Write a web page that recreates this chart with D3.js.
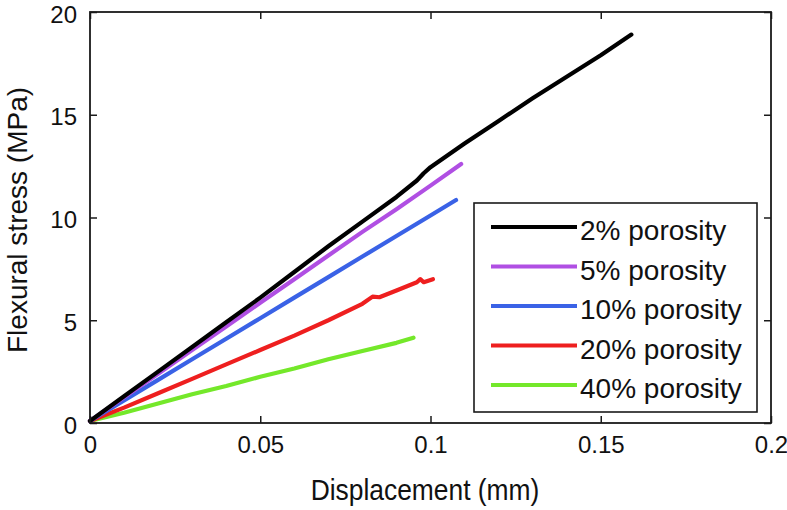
<!DOCTYPE html>
<html>
<head>
<meta charset="utf-8">
<script src="https://cdn.jsdelivr.net/npm/d3@7"></script>
<style>
  html, body { margin: 0; padding: 0; background: #fff; }
  svg { display: block; font-family: "Liberation Sans", Arial, Helvetica, sans-serif; }
</style>
</head>
<body>
<svg id="chart" width="787" height="510"></svg>
<script>
// ---- data ----
const seriesNames = ["2% porosity", "5% porosity", "10% porosity", "20% porosity", "40% porosity"];
const seriesColors = ["#000000", "#b04fe3", "#3a62e6", "#ee1f1f", "#74e82a"];

const disp2 = [0, 0.01, 0.02, 0.03, 0.04, 0.05, 0.06, 0.07, 0.08, 0.09, 0.096, 0.098, 0.1, 0.11, 0.12, 0.13, 0.14, 0.15, 0.159];
const stress2 = [0.1, 1.3, 2.5, 3.7, 4.9, 6.1, 7.35, 8.6, 9.8, 11.0, 11.8, 12.15, 12.45, 13.6, 14.7, 15.8, 16.85, 17.9, 18.9];

const disp5 = [0, 0.01, 0.02, 0.03, 0.04, 0.05, 0.06, 0.07, 0.08, 0.09, 0.1, 0.109];
const stress5 = [0.1, 1.25, 2.4, 3.55, 4.7, 5.85, 7.0, 8.15, 9.3, 10.4, 11.55, 12.6];

const disp10 = [0, 0.01, 0.02, 0.03, 0.04, 0.05, 0.06, 0.07, 0.08, 0.09, 0.1, 0.1075];
const stress10 = [0.1, 1.1, 2.1, 3.1, 4.1, 5.1, 6.1, 7.1, 8.1, 9.1, 10.1, 10.85];

const disp20 = [0, 0.01, 0.02, 0.03, 0.04, 0.05, 0.06, 0.07, 0.08, 0.083, 0.085, 0.09, 0.096, 0.097, 0.098, 0.1007];
const stress20 = [0.1, 0.75, 1.45, 2.15, 2.85, 3.55, 4.25, 5.0, 5.8, 6.15, 6.12, 6.45, 6.85, 7.0, 6.85, 7.0];

const disp40 = [0, 0.01, 0.02, 0.03, 0.04, 0.05, 0.06, 0.07, 0.08, 0.09, 0.095];
const stress40 = [0.1, 0.5, 0.95, 1.4, 1.8, 2.25, 2.65, 3.1, 3.5, 3.9, 4.15];

const xTicks = [0, 0.05, 0.1, 0.15, 0.2];
const xTickLabels = ["0", "0.05", "0.1", "0.15", "0.2"];
const yTicks = [0, 5, 10, 15, 20];
const yTickLabels = ["0", "5", "10", "15", "20"];

const xTitle = "Displacement (mm)";
const yTitle = "Flexural stress (MPa)";

// ---- layout ----
const svg = d3.select("#chart");
const L = 90, R = 771, T = 12, B = 423;

const x = d3.scaleLinear().domain([0, 0.2]).range([L, R]);
const y = d3.scaleLinear().domain([0, 20]).range([B, T]);

const series = [
  disp2.map((d, i) => [d, stress2[i]]),
  disp5.map((d, i) => [d, stress5[i]]),
  disp10.map((d, i) => [d, stress10[i]]),
  disp20.map((d, i) => [d, stress20[i]]),
  disp40.map((d, i) => [d, stress40[i]])
];

const line = d3.line().x(d => x(d[0])).y(d => y(d[1]));

// lines (draw in reverse so black on top)
const lg = svg.append("g");
for (let i = series.length - 1; i >= 0; i--) {
  lg.append("path")
    .datum(series[i])
    .attr("d", line)
    .attr("fill", "none")
    .attr("stroke", seriesColors[i])
    .attr("stroke-width", 4.2)
    .attr("stroke-linejoin", "round")
    .attr("stroke-linecap", "round");
}

// axes (ticks inward, on all four sides)
const tickLen = 7;
const axStroke = "#1a1a1a";

const xb = svg.append("g").attr("transform", `translate(0,${B})`)
  .call(d3.axisBottom(x).tickValues(xTicks).tickSizeInner(-tickLen).tickSizeOuter(0)
    .tickFormat((d, i) => xTickLabels[i]));
xb.selectAll("text").attr("font-size", 24).attr("fill", "#111").attr("y", 13).attr("dy", "0.71em");

svg.append("g").attr("transform", `translate(0,${T})`)
  .call(d3.axisTop(x).tickValues(xTicks).tickSizeInner(-tickLen).tickSizeOuter(0).tickFormat(""));

const yl = svg.append("g").attr("transform", `translate(${L},0)`)
  .call(d3.axisLeft(y).tickValues(yTicks).tickSizeInner(-tickLen).tickSizeOuter(0)
    .tickFormat((d, i) => yTickLabels[i]));
yl.selectAll("text").attr("font-size", 24).attr("fill", "#111").attr("x", -13).attr("dy", "0.42em");

svg.append("g").attr("transform", `translate(${R},0)`)
  .call(d3.axisRight(y).tickValues(yTicks).tickSizeInner(-tickLen).tickSizeOuter(0).tickFormat(""));

svg.selectAll(".domain").remove();
svg.selectAll(".tick line").attr("stroke", axStroke).attr("stroke-width", 1.5);

// box
svg.append("rect")
  .attr("x", L).attr("y", T).attr("width", R - L).attr("height", B - T)
  .attr("fill", "none").attr("stroke", axStroke).attr("stroke-width", 1.8);

// axis titles
svg.append("text")
  .attr("transform", `translate(425,500) scale(0.91,1)`)
  .attr("text-anchor", "middle")
  .attr("font-size", 29)
  .attr("fill", "#111")
  .text(xTitle);

svg.append("text")
  .attr("transform", `translate(27,220) rotate(-90)`)
  .attr("text-anchor", "middle")
  .attr("font-size", 28)
  .attr("fill", "#111")
  .text(yTitle);

// legend
const leg = svg.append("g");
leg.append("rect")
  .attr("x", 474).attr("y", 203).attr("width", 757 - 474).attr("height", 412 - 203)
  .attr("fill", "#fff").attr("stroke", axStroke).attr("stroke-width", 1.6);

const rowY = d3.scaleLinear().domain([0, 4]).range([227, 385]);
seriesNames.forEach((name, i) => {
  const yy = rowY(i);
  leg.append("line")
    .attr("x1", 491).attr("x2", 577).attr("y1", yy).attr("y2", yy)
    .attr("stroke", seriesColors[i]).attr("stroke-width", 4.2);
  leg.append("text")
    .attr("x", 580).attr("y", yy + 13)
    .attr("font-size", 28)
    .attr("fill", "#111")
    .text(name);
});
</script>
</body>
</html>
